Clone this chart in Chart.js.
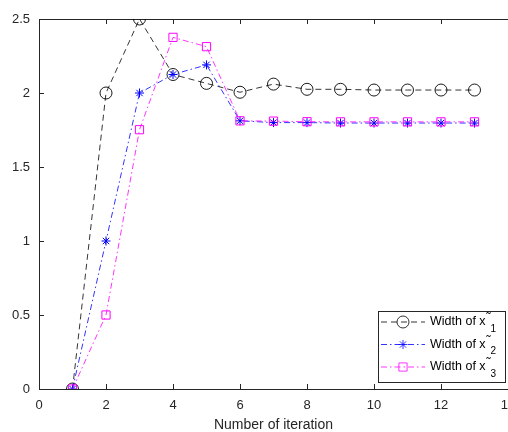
<!DOCTYPE html>
<html>
<head>
<meta charset="utf-8">
<script src="https://cdn.jsdelivr.net/npm/chart.js"></script>
<style>
  body { margin: 0; background: #fff; }
</style>
</head>
<body>
<canvas id="myChart" width="508" height="432"></canvas>
<script>
var iterations = [1, 2, 3, 4, 5, 6, 7, 8, 9, 10, 11, 12, 13];
var width1 = [0, 2.0, 2.5, 2.125, 2.065, 2.005, 2.06, 2.025, 2.025, 2.02, 2.02, 2.02, 2.02];
var width2 = [0, 1.0, 2.0, 2.125, 2.19, 1.812, 1.80, 1.80, 1.797, 1.797, 1.797, 1.797, 1.797];
var width3 = [0, 0.5, 1.752, 2.376, 2.313, 1.812, 1.81, 1.806, 1.805, 1.805, 1.805, 1.805, 1.805];
var subscripts = ['1', '2', '3'];

function pts(vals) {
  return vals.map(function (v, i) { return { x: iterations[i], y: v }; });
}

var axisColor = '#262626';
var fontFamily = '"Liberation Sans", Arial, sans-serif';

// box round the plot and inward ticks, matlab style
var frame = {
  id: 'frame',
  beforeDatasetsDraw: function (chart) {
    var ctx = chart.ctx, a = chart.chartArea;
    var xs = chart.scales.x, ys = chart.scales.y;
    ctx.save();
    ctx.strokeStyle = axisColor;
    ctx.lineWidth = 1;
    ctx.beginPath();
    ctx.moveTo(a.left, a.top + 0.5);
    ctx.lineTo(a.right, a.top + 0.5);
    xs.ticks.forEach(function (t) {
      var px = Math.round(xs.getPixelForValue(t.value)) + 0.5;
      ctx.moveTo(px, a.bottom); ctx.lineTo(px, a.bottom - 5);
      ctx.moveTo(px, a.top); ctx.lineTo(px, a.top + 5);
    });
    ys.ticks.forEach(function (t) {
      var py = Math.round(ys.getPixelForValue(t.value)) + 0.5;
      ctx.moveTo(a.left, py); ctx.lineTo(a.left + 5, py);
    });
    ctx.stroke();
    ctx.restore();
  }
};

var legendBox = {
  id: 'legendBox',
  afterDraw: function (chart) {
    var ctx = chart.ctx;
    var bx = 378, by = 311, bw = 127, bh = 71;
    ctx.save();
    ctx.fillStyle = '#fff';
    ctx.fillRect(bx, by, bw, bh);
    ctx.strokeStyle = axisColor;
    ctx.lineWidth = 1;
    ctx.strokeRect(bx + 0.5, by + 0.5, bw, bh);
    chart.data.datasets.forEach(function (ds, i) {
      var cy = 322 + i * 22.5;
      ctx.strokeStyle = ds.borderColor;
      ctx.lineWidth = 0.8;
      ctx.setLineDash(ds.borderDash);
      ctx.beginPath();
      ctx.moveTo(381, cy); ctx.lineTo(425, cy);
      ctx.stroke();
      ctx.setLineDash([]);
      ctx.fillStyle = 'rgba(0,0,0,0)';
      Chart.helpers.drawPoint(ctx, {
        pointStyle: ds.pointStyle, radius: ds.pointRadius,
        borderWidth: 1, rotation: 0
      }, 403, cy);
      ctx.fillStyle = '#000';
      ctx.font = '12.5px ' + fontFamily;
      ctx.textBaseline = 'middle';
      ctx.textAlign = 'left';
      var txt = 'Width of x';
      ctx.fillText(txt, 430, cy);
      var w = ctx.measureText(txt).width;
      ctx.fillText('\u02DC', 430 + w + 1, cy - 3);
      ctx.font = '10px ' + fontFamily;
      ctx.fillText(subscripts[i], 430 + w + 5, cy + 7);
    });
    ctx.restore();
  }
};

var ctx = document.getElementById('myChart').getContext('2d');
var chart = new Chart(ctx, {
  type: 'line',
  data: {
    datasets: [{
      label: 'Width of x1',
      data: pts(width1),
      borderColor: '#000000',
      backgroundColor: 'rgba(0,0,0,0)',
      borderWidth: 0.8,
      borderDash: [6, 4],
      pointStyle: 'circle',
      pointRadius: 6,
      pointBorderWidth: 0.9,
      order: 3
    }, {
      label: 'Width of x2',
      data: pts(width2),
      borderColor: '#0000ff',
      backgroundColor: 'rgba(0,0,0,0)',
      borderWidth: 0.8,
      borderDash: [6, 3, 1.5, 3],
      pointStyle: 'star',
      pointRadius: 4.5,
      pointBorderWidth: 1,
      order: 2
    }, {
      label: 'Width of x3',
      data: pts(width3),
      borderColor: '#ff00ff',
      backgroundColor: 'rgba(0,0,0,0)',
      borderWidth: 0.8,
      borderDash: [6, 3, 1.5, 3],
      pointStyle: 'rect',
      pointRadius: 5.8,
      pointBorderWidth: 1,
      order: 1
    }]
  },
  options: {
    responsive: false,
    animation: false,
    layout: { autoPadding: false, padding: { top: 19, right: 0, left: 0, bottom: 0 } },
    plugins: { legend: { display: false }, tooltip: { enabled: false } },
    scales: {
      x: {
        type: 'linear',
        min: 0, max: 14,
        grid: { display: false, drawTicks: false },
        border: { color: axisColor, width: 1 },
        ticks: {
          stepSize: 2, padding: 9, color: axisColor,
          font: { family: fontFamily, size: 13 }
        },
        title: {
          display: true, text: 'Number of iteration', color: axisColor,
          padding: { top: 2, bottom: 0 },
          font: { family: fontFamily, size: 14, lineHeight: 1.0 }
        },
        afterFit: function (s) { s.height = 43; s.paddingRight = 0; s.paddingLeft = 0; }
      },
      y: {
        min: 0, max: 2.5,
        grid: { display: false, drawTicks: false },
        border: { color: axisColor, width: 1 },
        ticks: {
          stepSize: 0.5, padding: 9, color: axisColor,
          font: { family: fontFamily, size: 13 },
          callback: function (v) { return String(+v.toFixed(2)); }
        },
        afterFit: function (s) { s.width = 39; }
      }
    }
  },
  plugins: [frame, legendBox]
});
</script>
</body>
</html>
